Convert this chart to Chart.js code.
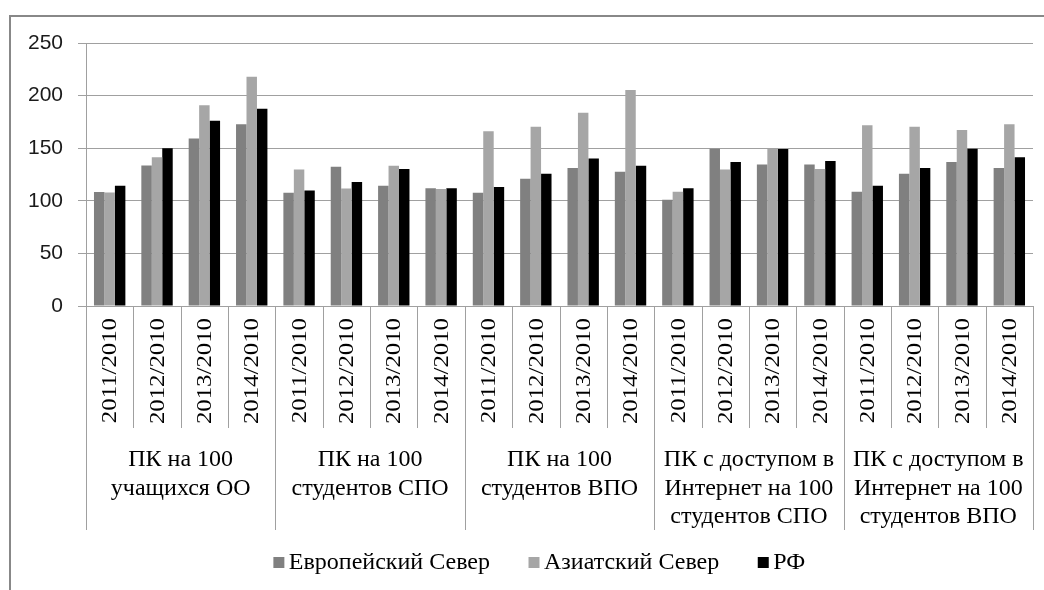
<!DOCTYPE html>
<html lang="ru">
<head>
<meta charset="utf-8">
<title>ПК на 100 учащихся и студентов</title>
<script src="https://cdn.jsdelivr.net/npm/chart.js@4.4.1/dist/chart.umd.min.js"></script>
<style>
  html, body { margin: 0; padding: 0; background: #ffffff; }
  canvas { display: block; }
</style>
</head>
<body>
<canvas id="chart" width="1044" height="590"></canvas>
<script>
// Years (relative to 2010) shown inside every indicator group
const yearLabels = ['2011/2010', '2012/2010', '2013/2010', '2014/2010'];

// Indicator groups, one entry per line of the group caption
const groupLabels = [
  ['ПК на 100', 'учащихся ОО'],
  ['ПК на 100', 'студентов СПО'],
  ['ПК на 100', 'студентов ВПО'],
  ['ПК с доступом в', 'Интернет на 100', 'студентов СПО'],
  ['ПК с доступом в', 'Интернет на 100', 'студентов ВПО']
];

const seriesNames = ['Европейский Север', 'Азиатский Север', 'РФ'];

// Index values, %, in the order group × year
const europeanNorth = [108.3, 133.6, 159.3, 172.7, 107.6, 132.4, 114.3, 112.0, 107.6, 121.0, 131.1, 127.6, 101.0, 149.5, 134.6, 134.6, 108.6, 125.7, 136.8, 131.1];
const asianNorth    = [108.0, 141.3, 190.8, 217.8, 129.8, 111.7, 133.3, 111.1, 166.0, 170.5, 183.8, 205.4, 108.6, 129.8, 149.5, 130.2, 171.7, 170.5, 167.3, 172.7];
const russia        = [114.3, 150.0, 176.2, 187.6, 109.8, 117.8, 130.2, 112.0, 113.0, 125.7, 140.3, 133.3, 112.0, 136.8, 149.2, 137.8, 114.3, 131.1, 149.5, 141.3];

const yTicks = { min: 0, max: 250, step: 50 };

const seriesColors = ['#808080', '#a6a6a6', '#000000'];
const lineColor = '#a0a0a0';
const serif = '"Liberation Serif", "Times New Roman", serif';
const sans = '"Liberation Sans", Arial, sans-serif';

const categories = groupLabels.flatMap(() => yearLabels);

// Legend swatch: a small square placed near the text
function makeSwatch(color) {
  const c = document.createElement('canvas');
  c.width = 40;
  c.height = 12;
  const g = c.getContext('2d');
  g.fillStyle = color;
  g.fillRect(22, 0, 11, 11);
  return c;
}
const swatches = seriesColors.map(makeSwatch);

// Outer frame plus the two-level category axis (years and groups)
const axisDecor = {
  id: 'axisDecor',
  afterLayout(chart) {
    // the legend row sits a little right of the canvas centre
    const legend = chart.legend;
    if (legend) { legend.left += 14; legend.right += 14; }
  },
  beforeDraw(chart) {
    const ctx = chart.ctx;
    ctx.save();
    ctx.strokeStyle = '#888888';
    ctx.lineWidth = 2;
    ctx.strokeRect(10, 16, 1200, 800);
    ctx.restore();
  },
  afterDraw(chart) {
    const ctx = chart.ctx;
    const x = chart.scales.x;
    const area = chart.chartArea;
    const base = area.bottom;
    const n = categories.length;
    const per = yearLabels.length;

    ctx.save();
    // separators between categories and between groups
    ctx.strokeStyle = lineColor;
    ctx.lineWidth = 1;
    for (let i = 0; i <= n; i++) {
      let edge;
      if (i === 0) edge = area.left;
      else if (i === n) edge = area.right;
      else edge = (x.getPixelForValue(i - 1) + x.getPixelForValue(i)) / 2;
      const px = Math.round(edge) + 0.5;
      const len = (i % per === 0) ? 224 : 122;
      ctx.beginPath();
      ctx.moveTo(px, base);
      ctx.lineTo(px, base + len);
      ctx.stroke();
    }

    // rotated year labels
    ctx.fillStyle = '#000000';
    ctx.font = '20px ' + serif;
    ctx.textAlign = 'right';
    ctx.textBaseline = 'alphabetic';
    categories.forEach((label, i) => {
      const cx = x.getPixelForValue(i);
      ctx.save();
      ctx.translate(cx, base + 12);
      ctx.rotate(-Math.PI / 2);
      ctx.scale(1.24, 1);
      ctx.fillText(label, 0, 6.7);
      ctx.restore();
    });

    // group captions
    ctx.font = '24px ' + serif;
    ctx.textAlign = 'center';
    groupLabels.forEach((lines, g) => {
      const first = x.getPixelForValue(g * per);
      const last = x.getPixelForValue(g * per + per - 1);
      const cx = (first + last) / 2;
      lines.forEach((line, k) => {
        ctx.fillText(line, cx, base + 160 + k * 28.7);
      });
    });
    ctx.restore();
  }
};

new Chart(document.getElementById('chart'), {
  type: 'bar',
  data: {
    labels: categories,
    datasets: [
      { label: seriesNames[0], data: europeanNorth, backgroundColor: seriesColors[0] },
      { label: seriesNames[1], data: asianNorth, backgroundColor: seriesColors[1] },
      { label: seriesNames[2], data: russia, backgroundColor: seriesColors[2] }
    ]
  },
  options: {
    responsive: false,
    animation: false,
    devicePixelRatio: 1,
    layout: { padding: { left: 10, right: 11, top: 43, bottom: 5 } },
    datasets: {
      bar: { categoryPercentage: 0.663, barPercentage: 1.0, borderWidth: 0 }
    },
    scales: {
      x: {
        ticks: { display: false },
        grid: { display: false },
        border: { display: true, color: lineColor, width: 1 },
        afterFit(scale) { scale.height = 214; }
      },
      y: {
        min: yTicks.min,
        max: yTicks.max,
        ticks: {
          stepSize: yTicks.step,
          padding: 15,
          color: '#1a1a1a',
          font: { family: sans, size: 21 }
        },
        grid: { color: lineColor, lineWidth: 1, tickLength: 8 },
        border: { display: true, color: lineColor, width: 1 },
        afterFit(scale) { scale.width = 76; }
      }
    },
    plugins: {
      legend: {
        position: 'bottom',
        labels: {
          usePointStyle: true,
          pointStyleWidth: 11,
          padding: 31,
          color: '#000000',
          font: { family: serif, size: 24 },
          generateLabels(chart) {
            const items = Chart.defaults.plugins.legend.labels.generateLabels(chart);
            items.forEach((item, i) => { item.pointStyle = swatches[i]; });
            return items;
          }
        }
      },
      tooltip: { enabled: false }
    }
  },
  plugins: [axisDecor]
});
</script>
</body>
</html>
